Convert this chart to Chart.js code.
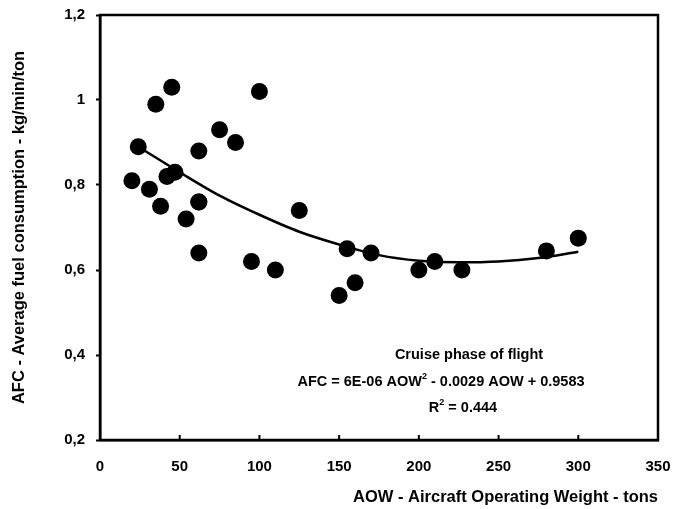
<!DOCTYPE html>
<html>
<head>
<meta charset="utf-8">
<script src="https://cdn.jsdelivr.net/npm/chart.js@4"></script>
<style>
  html, body { margin: 0; padding: 0; background: #ffffff; }
  #wrap { width: 673px; height: 509px; }
</style>
</head>
<body>
<div id="wrap"><canvas id="c" width="673" height="509"></canvas></div>
<script>
// ---- data ----
const aowValues = [20, 24, 31, 35, 38, 42, 45, 47, 54, 62, 62, 62, 62, 75, 85, 95, 100, 110, 125, 150, 155, 160, 170, 200, 210, 227, 280, 300];
const afcValues = [0.81, 0.89, 0.79, 0.99, 0.75, 0.82, 1.03, 0.83, 0.72, 0.88, 0.76, 0.64, 0.76, 0.93, 0.90, 0.62, 1.02, 0.60, 0.74, 0.54, 0.65, 0.57, 0.64, 0.60, 0.62, 0.60, 0.645, 0.675];
const trendX = [24, 50, 75, 100, 125, 150, 175, 200, 225, 250, 275, 300];
const trendY = [0.89, 0.83, 0.775, 0.73, 0.69, 0.66, 0.635, 0.622, 0.618, 0.62, 0.628, 0.643];
const xTickLabels = ['0', '50', '100', '150', '200', '250', '300', '350'];
const yTickLabels = ['0,2', '0,4', '0,6', '0,8', '1', '1,2'];
const xTitle = 'AOW - Aircraft Operating Weight - tons';
const yTitle = 'AFC - Average fuel consumption - kg/min/ton';
const noteLine1 = 'Cruise phase of flight';
const noteLine2 = ['AFC = 6E-06 AOW', '2', ' - 0.0029 AOW + 0.9583'];
const noteLine3 = ['R', '2', ' = 0.444'];

const FONT = "'Liberation Sans', Arial, sans-serif";

const framePlugin = {
  id: 'frame',
  afterDatasetsDraw(chart) {
    const {ctx, chartArea: a, scales} = chart;
    ctx.save();
    ctx.strokeStyle = '#000';
    ctx.lineWidth = 2.5;
    ctx.strokeRect(a.left, a.top, a.right - a.left, a.bottom - a.top);
    // small inward x tick marks
    ctx.lineWidth = 2;
    scales.x.ticks.forEach(t => {
      const px = scales.x.getPixelForValue(t.value);
      if (px > a.left + 3 && px < a.right - 3) {
        ctx.beginPath(); ctx.moveTo(px, a.bottom); ctx.lineTo(px, a.bottom - 5); ctx.stroke();
      }
    });
    ctx.restore();
  }
};

function drawSupLine(ctx, parts, cx, cy, size) {
  const big = `bold ${size}px ${FONT}`;
  const small = `bold ${Math.round(size * 0.65)}px ${FONT}`;
  ctx.font = big;
  const w0 = ctx.measureText(parts[0]).width;
  const w2 = ctx.measureText(parts[2]).width;
  ctx.font = small;
  const w1 = ctx.measureText(parts[1]).width;
  let x = cx - (w0 + w1 + w2) / 2;
  ctx.textAlign = 'left';
  ctx.textBaseline = 'middle';
  ctx.font = big;
  ctx.fillText(parts[0], x, cy); x += w0;
  ctx.font = small;
  ctx.fillText(parts[1], x, cy - size * 0.38); x += w1;
  ctx.font = big;
  ctx.fillText(parts[2], x, cy);
}

const notePlugin = {
  id: 'note',
  afterDraw(chart) {
    const ctx = chart.ctx;
    ctx.save();
    ctx.fillStyle = '#000';
    ctx.font = `bold 14.5px ${FONT}`;
    ctx.textAlign = 'center';
    ctx.textBaseline = 'middle';
    ctx.fillText(noteLine1, 469, 355);
    drawSupLine(ctx, noteLine2, 441, 382, 14.5);
    drawSupLine(ctx, noteLine3, 463, 408, 14.5);
    ctx.restore();
  }
};

const scatterPoints = aowValues.map((x, i) => ({x, y: afcValues[i]}));
const trendPoints = trendX.map((x, i) => ({x, y: trendY[i]}));

new Chart(document.getElementById('c'), {
  type: 'scatter',
  data: {
    datasets: [
      {
        type: 'line',
        data: trendPoints,
        borderColor: '#000',
        borderWidth: 2.5,
        pointRadius: 0,
        fill: false,
        cubicInterpolationMode: 'monotone',
        order: 2
      },
      {
        data: scatterPoints,
        backgroundColor: '#000',
        borderColor: '#000',
        borderWidth: 0,
        pointRadius: 8.5,
        pointHoverRadius: 8.5,
        order: 1
      }
    ]
  },
  options: {
    responsive: false,
    animation: false,
    events: [],
    layout: { padding: { top: 15, right: 15, left: 0, bottom: 0 } },
    plugins: { legend: { display: false }, tooltip: { enabled: false } },
    scales: {
      x: {
        type: 'linear',
        min: 0, max: 350,
        afterFit(s) { s.height = 69; s.paddingLeft = 0; s.paddingRight = 0; },
        grid: { display: true, drawOnChartArea: false, drawTicks: false },
        border: { display: true, color: '#000', width: 2.5 },
        ticks: {
          stepSize: 50,
          padding: 18,
          color: '#000',
          font: { family: FONT, size: 15, weight: 'bold' },
          callback: (v) => xTickLabels[Math.round(v / 50)]
        },
        title: {
          display: true, text: xTitle, align: 'end', color: '#000',
          font: { family: FONT, size: 16.5, weight: 'bold' },
          padding: { top: 0, bottom: 2 }
        }
      },
      y: {
        type: 'linear',
        min: 0.2, max: 1.2,
        afterFit(s) { s.width = 100; s.paddingTop = 0; s.paddingBottom = 0; },
        grid: { display: true, drawOnChartArea: false, drawTicks: true, tickLength: 4, color: '#000', tickWidth: 2 },
        border: { display: true, color: '#000', width: 2.5 },
        ticks: {
          stepSize: 0.2,
          padding: 11,
          color: '#000',
          font: { family: FONT, size: 15, weight: 'bold' },
          callback: (v) => yTickLabels[Math.round((v - 0.2) / 0.2)]
        },
        title: {
          display: true, text: yTitle, color: '#000',
          font: { family: FONT, size: 16.5, weight: 'bold' },
          padding: { top: 10, bottom: 0 }
        }
      }
    }
  },
  plugins: [framePlugin, notePlugin]
});
</script>
</body>
</html>
